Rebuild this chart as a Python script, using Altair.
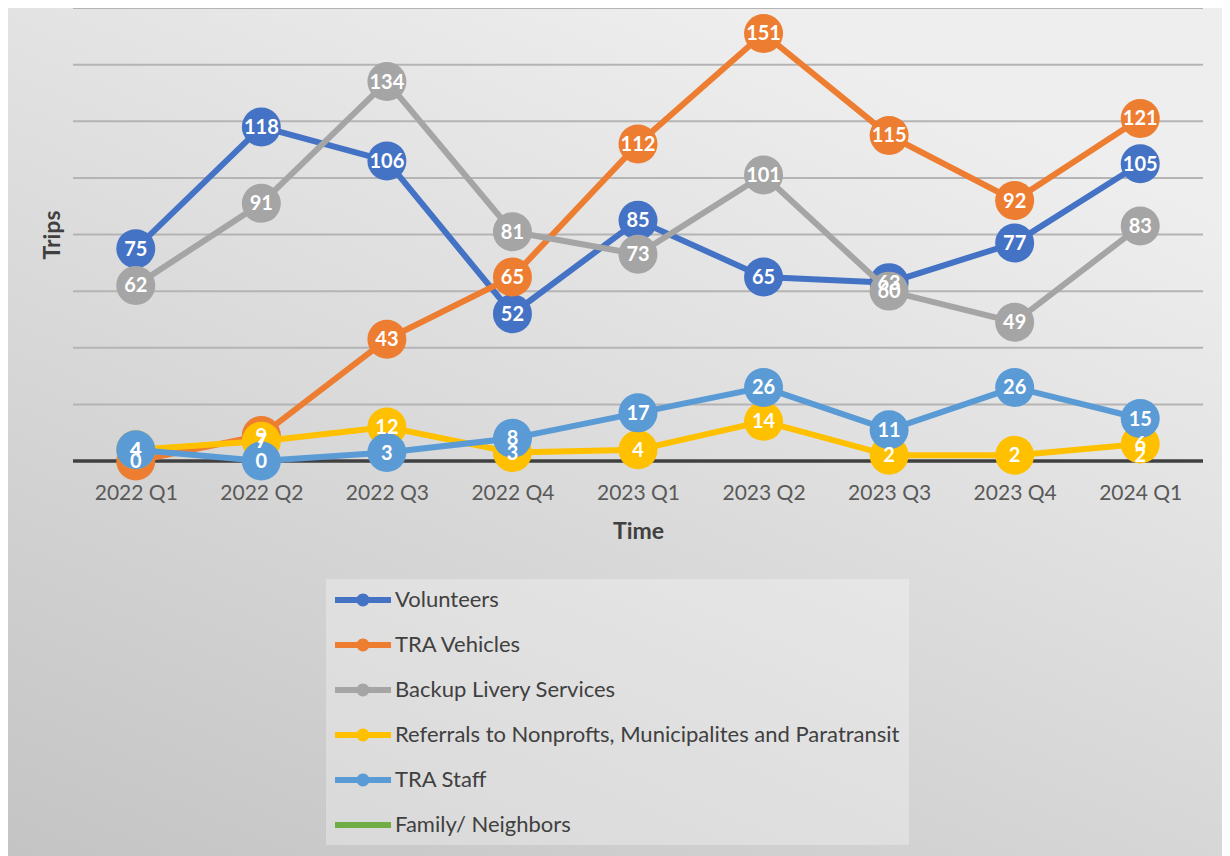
import altair as alt
import pandas as pd

quarters = ["2022 Q1", "2022 Q2", "2022 Q3", "2022 Q4", "2023 Q1",
            "2023 Q2", "2023 Q3", "2023 Q4", "2024 Q1"]
series_names = ["Volunteers", "TRA Vehicles", "Backup Livery Services",
                "Referrals to Nonprofts, Municipalites and Paratransit",
                "TRA Staff", "Family/ Neighbors"]
series_colors = ["#4472C4", "#ED7D31", "#A5A5A5", "#FFC000", "#5B9BD5", "#70AD47"]

volunteers = [75, 118, 106, 52, 85, 65, 63, 77, 105]
tra_vehicles = [0, 9, 43, 65, 112, 151, 115, 92, 121]
backup_livery = [62, 91, 134, 81, 73, 101, 60, 49, 83]
referrals = [4, 7, 12, 3, 4, 14, 2, 2, 6]
tra_staff = [4, 0, 3, 8, 17, 26, 11, 26, 15]
family = [None, None, None, None, None, None, None, None, 2]

grid_values = [20, 40, 60, 80, 100, 120, 140, 160]

all_values = [volunteers, tra_vehicles, backup_livery, referrals, tra_staff, family]
rows = []
for name, vals in zip(series_names, all_values):
    for q, v in zip(quarters, vals):
        if v is not None:
            rows.append({"quarter": q, "series": name, "value": v})
df = pd.DataFrame(rows)

FONT = "Lato"
W, H = 1130, 453
PAD = {"left": 65, "top": 0, "right": 19, "bottom": 395}

# legend symbol paths (unit = 12 px when symbolSize = 576)
LINE_CIRCLE = ("M-1,-0.25 L3.67,-0.25 L3.67,0.25 L-1,0.25 Z "
               "M0.79,0 A0.54,0.54 0 1,1 1.87,0 A0.54,0.54 0 1,1 0.79,0 Z")
LINE_ONLY = "M-1,-0.25 L3.67,-0.25 L3.67,0.25 L-1,0.25 Z"
legend_shapes = [LINE_CIRCLE] * 5 + [LINE_ONLY]

legend = alt.Legend(
    orient="none", legendX=253, legendY=571, direction="vertical", title=None,
    fillColor="rgba(255,255,255,0.3)", padding=9,
    symbolSize=576, symbolStrokeWidth=0, symbolOpacity=1,
    labelFont=FONT, labelFontSize=22, labelColor="#404040", labelOffset=36,
    labelLimit=0, rowPadding=22,
)
COLOR = alt.Color("series:N", scale=alt.Scale(domain=series_names, range=series_colors),
                  legend=legend, title=None)
SHAPE = alt.Shape("series:N", scale=alt.Scale(domain=series_names, range=legend_shapes),
                  legend=legend, title=None)

XAX = alt.Axis(title="Time", grid=False, domain=False, ticks=False, tickSize=0, zindex=1,
               labelFont=FONT, labelFontSize=21, labelColor="#595959", labelPadding=21,
               labelAngle=0, titleFont=FONT, titleFontSize=23, titleFontWeight="bold",
               titleColor="#404040", titlePadding=17)
YAX = alt.Axis(title="Trips", grid=False, domain=False, ticks=False, labels=False, zindex=1,
               titleFont=FONT, titleFontSize=23, titleFontWeight="bold",
               titleColor="#404040", titlePadding=9)
X = alt.X("quarter:N", sort=quarters, scale=alt.Scale(type="point", padding=0.5, domain=quarters), axis=XAX)
Y = alt.Y("value:Q", scale=alt.Scale(domain=[0, 160], nice=False), axis=YAX)

bg = alt.Chart(pd.DataFrame({"a": [0]})).mark_rect(
    color=alt.Gradient(gradient="linear", x1=0, y1=1, x2=0.6, y2=0,
                       stops=[alt.GradientStop(color="#c4c4c4", offset=0),
                              alt.GradientStop(color="#eeeeee", offset=1)])
).encode(x=alt.value(-PAD["left"]), x2=alt.value(W + PAD["right"]),
         y=alt.value(-PAD["top"]), y2=alt.value(H + PAD["bottom"]))

grid = alt.Chart(pd.DataFrame({"value": grid_values})).mark_rule(
    color="#b4b4b4", strokeWidth=2).encode(y=Y)
zero = alt.Chart(pd.DataFrame({"value": [0]})).mark_rule(
    color="#404040", strokeWidth=3.5).encode(y=Y)

layers = [bg, grid, zero]
for name in series_names:
    base = alt.Chart(df).transform_filter(alt.datum.series == name)
    layers.append(base.mark_line(strokeWidth=6).encode(x=X, y=Y, color=COLOR))
    if name != "Family/ Neighbors":
        layers.append(base.mark_point(filled=True, size=1520, opacity=1).encode(
            x=X, y=Y, color=COLOR))

# legend-only layer (no marks drawn) carrying the legend symbol shapes
legend_layer = alt.Chart(df).transform_filter("false").mark_point(
    filled=True, opacity=1, size=576).encode(x=X, y=Y, color=COLOR, shape=SHAPE)
layers.append(legend_layer)

labels = alt.Chart(df).mark_text(
    color="white", font=FONT, fontSize=20, fontWeight="bold", baseline="middle",
    align="center", dy=1).encode(x=X, y=Y, text=alt.Text("value:Q"))
layers.append(labels)

chart = alt.layer(*layers).properties(
    width=W, height=H, padding=PAD,
    autosize=alt.AutoSizeParams(type="none"),
    background="#d8d8d8",
).configure_view(stroke=None)

chart.save("out.html", embed_options={"renderer": "svg", "actions": False})
